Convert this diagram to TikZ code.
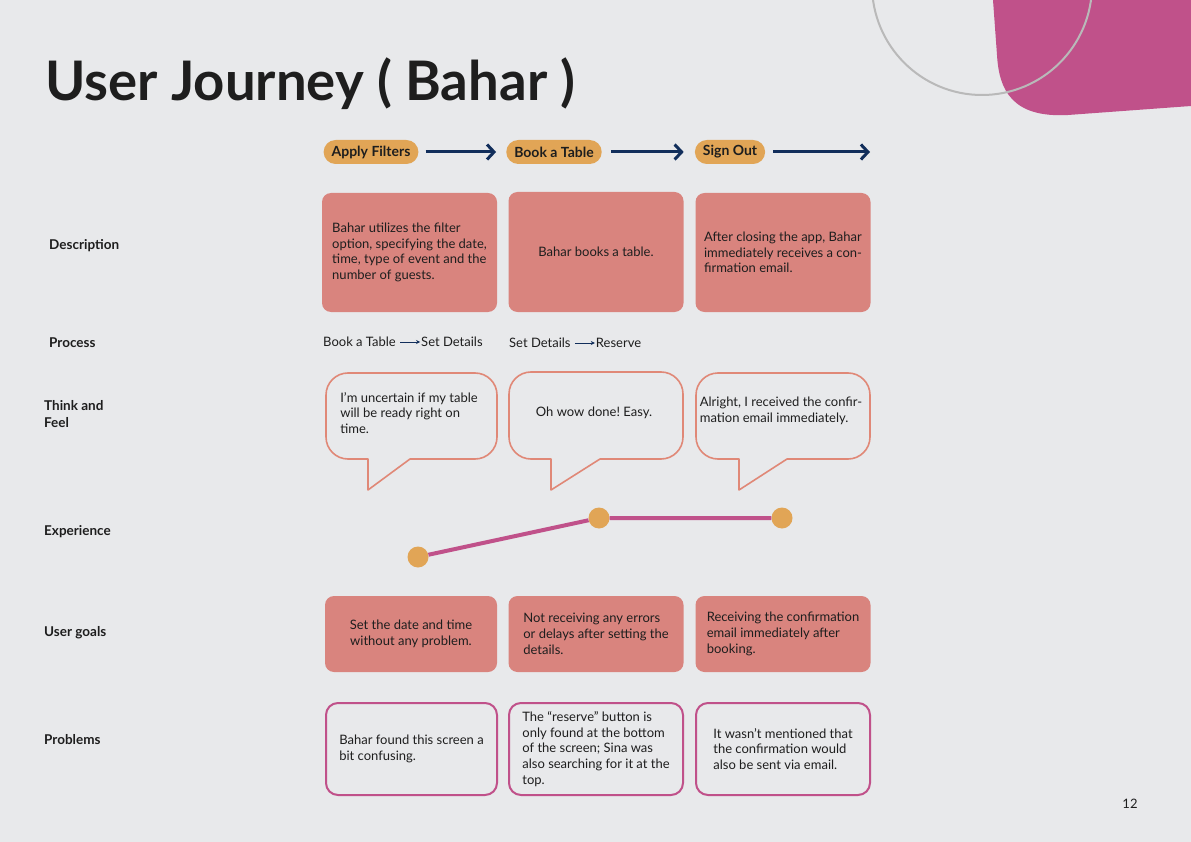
\documentclass[tikz,border=0pt]{standalone}
\usepackage{fontspec}
\setmainfont{Lato}
\usetikzlibrary{positioning,arrows.meta}
\definecolor{paper}{HTML}{E8E9EB}
\definecolor{salmon}{HTML}{D9847E}
\definecolor{amber}{HTML}{E1A556}
\definecolor{navy}{HTML}{112E5B}
\definecolor{plum}{HTML}{C0518A}
\definecolor{bubblec}{HTML}{E08877}
\definecolor{ink}{HTML}{1E1E1E}
\frenchspacing

\begin{document}
\begin{tikzpicture}[x=1pt,y=-1pt,line join=round,
  every node/.style={text=ink,font=\fontsize{13}{15.7}\selectfont},
  rowlabel/.style={anchor=west,inner sep=0,font=\bfseries\fontsize{13.5}{17}\selectfont,align=left},
  pill/.style={fill=amber,rounded corners=12pt,minimum height=24pt,inner xsep=8pt,font=\bfseries\fontsize{14}{15}\selectfont},
  flow/.style={navy,line width=3pt,-{Straight Barb[length=7pt,width=15pt]}},
  card/.style={fill=salmon,rounded corners=9pt,minimum width=175pt,align=left},
  note/.style={draw=plum,line width=2pt,rounded corners=12pt,minimum width=171pt,minimum height=92pt,align=left},
  bub/.style={draw=bubblec,line width=1.6pt},
  dot/.style={circle,fill=amber,minimum size=21pt,inner sep=0},
  trend/.style={plum,line width=4pt},
  small/.style={navy,line width=0.8pt,-{Stealth[length=4pt,width=4pt]},shorten <=4pt,shorten >=1pt}]
  \useasboundingbox (0,0) rectangle (1191,842);
  \fill[paper] (0,0) rectangle (1191,842);

  % corner decoration
  \fill[plum] (993,0) -- (1191,0) -- (1191,106) -- (1068,115)
    .. controls (1012,118) and (999,90) .. (997,55) -- cycle;
  \draw[gray!55,line width=2pt] (982,-15) circle (110);

  \node[anchor=base west,inner sep=0,font=\bfseries\fontsize{54.5}{60}\selectfont] (title) at (45,101) {User Journey ( Bahar )};

  % stages
  \node[pill] (A) at (371,152) {Apply Filters};
  \node[pill] (B) at (554,152) {Book a Table};
  \node[pill] (C) at (730,152) {Sign Out};
  \coordinate (end) at (870,152);
  \draw[flow,shorten <=7pt,shorten >=10pt] (A) -- (B);
  \draw[flow,shorten <=9pt,shorten >=11pt] (B) -- (C);
  \draw[flow,shorten <=8pt] (C) -- (end);

  % row labels
  \node[rowlabel] (l1) at (49,246) {Description};
  \node[rowlabel] (l2) at (49,343) {Process};
  \node[rowlabel] (l3) at (44,414) {Think and\\Feel};
  \node[rowlabel] (l4) at (44,532) {Experience};
  \node[rowlabel] (l5) at (44,633) {User goals};
  \node[rowlabel] (l6) at (44,740) {Problems};

  % description
  \node[card,minimum height=119pt] (d1) at (409.5,252.5) {Bahar utilizes the filter\\option, specifying the date,\\time, type of event and the\\number of guests.};
  \node[card,minimum height=120pt,align=center] (d2) at (596,252) {Bahar books a table.};
  \node[card,minimum height=119pt] (d3) at (783,252.5) {After closing the app, Bahar\\immediately receives a con-\\firmation email.};

  % process
  \node[anchor=west,inner sep=0] (p1) at (323,342) {Book a Table};
  \node[right=25pt of p1,inner sep=0] (p2) {Set Details};
  \draw[small] (p1) -- (p2);
  \node[anchor=west,inner sep=0] (p3) at (509,343) {Set Details};
  \node[right=25pt of p3,inner sep=0] (p4) {Reserve};
  \draw[small] (p3) -- (p4);

  % think and feel
  \draw[bub] (368,459) -- (348,459) arc (90:180:22) -- (326,395) arc (180:270:22)
    -- (475,373) arc (270:360:22) -- (497,437) arc (0:90:22) -- (410,459) -- (368,490) -- cycle;
  \draw[bub] (551,459) -- (531,459) arc (90:180:22) -- (509,394) arc (180:270:22)
    -- (661,372) arc (270:360:22) -- (683,437) arc (0:90:22) -- (600,459) -- (551,490) -- cycle;
  \draw[bub] (739,459) -- (718,459) arc (90:180:22) -- (696,395) arc (180:270:22)
    -- (848,373) arc (270:360:22) -- (870,437) arc (0:90:22) -- (787,459) -- (739,490) -- cycle;
  \node[align=left] (t1) at (409,413) {I'm uncertain if my table\\will be ready right on\\time.};
  \node (t2) at (594,413) {Oh wow done! Easy.};
  \node[align=left] (t3) at (781,411) {Alright, I received the confir-\\mation email immediately.};

  % experience
  \node[dot] (e1) at (418,557) {};
  \node[dot] (e2) at (599,518) {};
  \node[dot] (e3) at (782,518) {};
  \draw[trend] (e1) -- (e2) -- (e3);

  % user goals
  \node[card,minimum width=172pt,minimum height=76pt,align=center] (g1) at (411,634) {Set the date and time\\without any problem.};
  \node[card,minimum height=76pt] (g2) at (596,634) {Not receiving any errors\\or delays after setting the\\details.};
  \node[card,minimum height=76pt] (g3) at (783,634) {Receiving the confirmation\\email immediately after\\booking.};

  % problems
  \node[note] (n1) at (411.5,749) {Bahar found this screen a\\bit confusing.};
  \node[note,minimum width=174pt] (n2) at (596,749) {The “reserve” button is\\only found at the bottom\\of the screen; Sina was\\also searching for it at the\\top.};
  \node[note,minimum width=174pt] (n3) at (783,749) {It wasn’t mentioned that\\the confirmation would\\also be sent via email.};

  \node (page) at (1130,804) {12};
\end{tikzpicture}
\end{document}
